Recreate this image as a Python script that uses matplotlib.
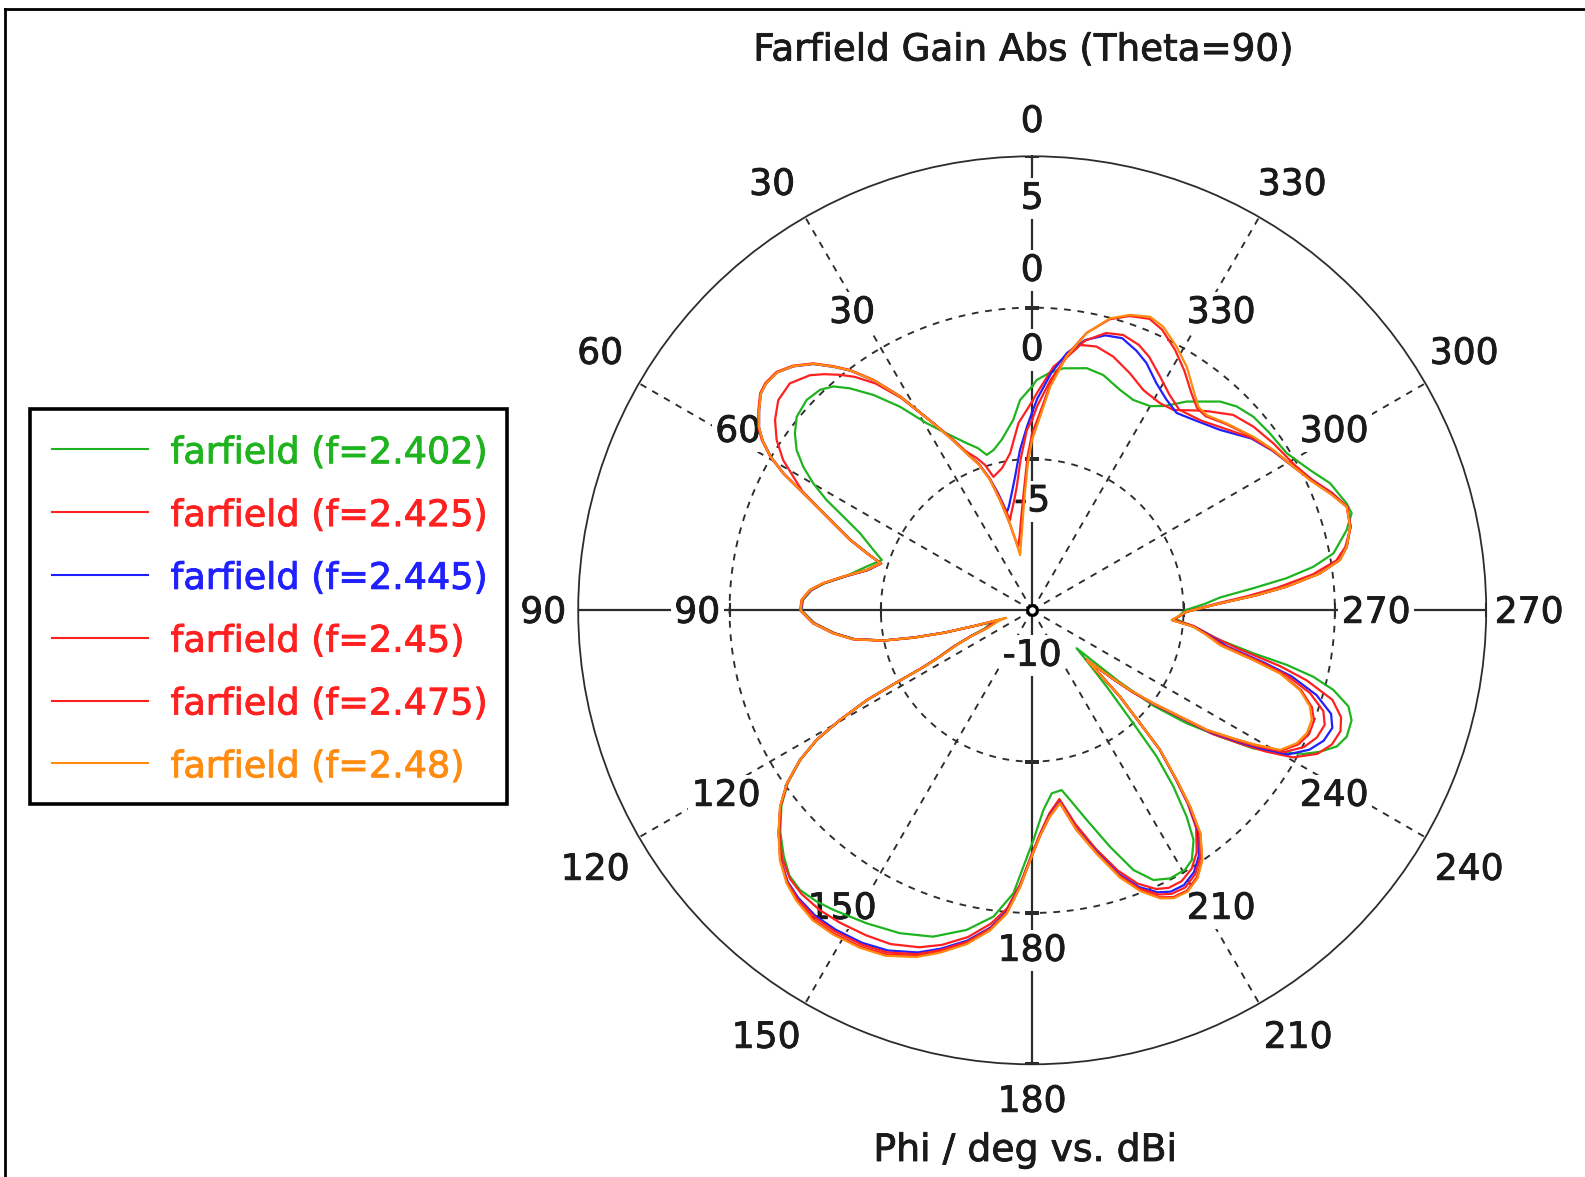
import numpy as np
import matplotlib
matplotlib.use("Agg")
import matplotlib.pyplot as plt
import matplotlib.patheffects as pe
from matplotlib.lines import Line2D
from matplotlib.patches import Rectangle

plt.rcParams['font.family'] = ['DejaVu Sans']

# ---------------- data ----------------
TITLE = 'Farfield Gain Abs (Theta=90)'
XLABEL = 'Phi / deg vs. dBi'
ANGLE_TICKS = [0, 30, 60, 90, 120, 150, 180, 210, 240, 270, 300, 330]
RING_VALUES = [5, 0, -5, -10]
R_MIN, R_MAX = -10, 5

LABELS = ['farfield (f=2.402)', 'farfield (f=2.425)', 'farfield (f=2.445)',
          'farfield (f=2.45)', 'farfield (f=2.475)', 'farfield (f=2.48)']
COLORS = ['#1fb41f', '#ff2020', '#2020ff', '#ff2020', '#ff2020', '#ff8c10']

# common phi grid (deg) for f=2.445 / 2.45 / 2.475 / 2.48
phi_bundle = [
    0, 1.7, 4.4, 7.1, 9.5, 12.4, 13.8, 14.5, 16.3, 17.9,
    20, 22.7, 25, 27.9, 31.7, 34.6, 37.2, 39.2, 41.6, 44.4,
    47, 49.6, 51.4, 53.8, 56.2, 57.8, 59.6, 61.2, 62.6, 64.3,
    66.4, 68.9, 71, 72.8, 76.3, 79.9, 82.6, 84.8, 87.4, 90,
    93.4, 96.6, 99.2, 101.5, 103, 104.3, 105.2, 106, 108, 111.2,
    112.8, 114.7, 116.7, 117.6, 118, 118.5, 119.7, 121, 122.8, 125.2,
    127.9, 131.3, 134.7, 138, 140.9, 144.7, 148.4, 152.9, 157, 161.5,
    164.9, 168.9, 172.5, 175.2, 177.5, 179.5, 182, 184.9, 188.2, 191.4,
    194.9, 198.2, 201.1, 204, 206.2, 208.9, 211.7, 214.2, 217, 218.8,
    220.4, 222.5, 223.7, 225.5, 227.6, 229.6, 230.8, 232.5, 234.3, 235.6,
    237.5, 238.8, 240.6, 243.3, 245.9, 248.6, 250.9, 253.4, 255.7, 257.3,
    259.5, 262, 264.2, 266, 269.5, 272.1, 273.8, 275.3, 277.3, 279.3,
    281.4, 284.7, 288.2, 291.4, 295.1, 298.8, 303.6, 308.1, 313.9, 318.2,
    320.8, 323.8, 327.6, 331.3, 335.2, 338.1, 341.7, 345.1, 348.9, 352.3,
    355.4, 358.6]

gain_f2480 = [
    -4.35, -5.15, -6.45, -7.3, -7.75, -8.13, -7.4, -7.0, -6.2, -5.47,
    -4.9, -4.38, -3.8, -3.01, -1.70, -0.76, -0.05, 0.39, 0.89, 1.29,
    1.52, 1.55, 1.47, 1.18, 0.86, 0.53, 0.02, -0.63, -1.38, -2.12,
    -2.85, -3.57, -4.24, -4.76, -4.37, -3.66, -3.04, -2.63, -2.38, -2.35,
    -2.76, -3.39, -4.01, -4.98, -6.0, -7.0, -8.1, -9.1, -8.8, -8.5,
    -7.9, -7.25, -6.6, -6.0, -5.0, -3.8, -2.69, -1.69, -0.87, -0.08,
    0.56, 1.16, 1.73, 2.13, 2.36, 2.55, 2.57, 2.52, 2.40, 2.08,
    1.72, 1.24, 0.67, 0.06, -0.85, -1.72, -2.55, -3.16, -3.56, -2.59,
    -1.66, -0.70, -0.05, 0.42, 0.60, 0.62, 0.40, 0.0, -0.76, -1.66,
    -2.62, -3.75, -4.84, -5.93, -7.55, -6.62, -5.83, -4.95, -3.98, -3.01,
    -2.12, -1.46, -0.60, -0.22, -0.06, -0.08, -0.29, -0.77, -1.55, -2.51,
    -3.69, -4.2, -4.65, -5.38, -4.90, -3.79, -2.6, -1.56, -0.41, 0.31,
    0.60, 0.86, 0.94, 0.57, 0.14, -0.15, -0.43, -0.71, -1.09, -1.35,
    -1.32, -0.98, -0.47, -0.07, 0.32, 0.45, 0.28, -0.02, -0.67, -1.54,
    -2.59, -3.93]

gain_f2475 = [
    -4.15, -4.9, -6.2, -7.0, -7.5, -7.85, -7.45, -7.05, -6.2, -5.45,
    -4.88, -4.36, -3.78, -2.99, -1.68, -0.74, -0.03, 0.41, 0.91, 1.31,
    1.55, 1.58, 1.50, 1.21, 0.89, 0.56, 0.04, -0.61, -1.36, -2.10,
    -2.83, -3.55, -4.22, -4.74, -4.36, -3.65, -3.03, -2.62, -2.37, -2.33,
    -2.74, -3.37, -4.0, -4.95, -5.95, -6.95, -7.95, -8.9, -8.7, -8.4,
    -7.85, -7.2, -6.55, -5.95, -5.0, -3.8, -2.7, -1.7, -0.88, -0.1,
    0.54, 1.14, 1.71, 2.11, 2.33, 2.51, 2.53, 2.48, 2.35, 2.04,
    1.69, 1.21, 0.64, 0.04, -0.86, -1.72, -2.55, -3.17, -3.57, -2.60,
    -1.68, -0.73, -0.08, 0.38, 0.56, 0.58, 0.36, -0.02, -0.77, -1.67,
    -2.63, -3.75, -4.84, -5.93, -7.5, -6.6, -5.82, -4.94, -3.97, -3.0,
    -2.1, -1.43, -0.55, -0.15, 0.02, 0.0, -0.22, -0.72, -1.5, -2.47,
    -3.66, -4.18, -4.63, -5.36, -4.88, -3.78, -2.6, -1.56, -0.42, 0.30,
    0.60, 0.87, 0.95, 0.58, 0.15, -0.14, -0.44, -0.73, -1.12, -1.40,
    -1.38, -1.10, -0.62, -0.18, 0.22, 0.38, 0.24, -0.05, -0.66, -1.50,
    -2.50, -3.75]

gain_f2445 = [
    -3.45, -3.95, -4.7, -5.5, -6.0, -6.45, -6.6, -6.64, -5.95, -5.42,
    -4.87, -4.36, -3.79, -3.0, -1.7, -0.77, -0.06, 0.38, 0.88, 1.28,
    1.52, 1.55, 1.47, 1.18, 0.86, 0.52, 0.0, -0.64, -1.38, -2.12,
    -2.85, -3.57, -4.25, -4.77, -4.4, -3.68, -3.06, -2.65, -2.40, -2.36,
    -2.78, -3.41, -4.04, -5.0, -6.05, -7.05, -8.1, -8.8, -8.6, -8.45,
    -7.85, -7.2, -6.55, -5.9, -4.95, -3.78, -2.68, -1.68, -0.86, -0.08,
    0.55, 1.15, 1.70, 2.07, 2.25, 2.38, 2.39, 2.34, 2.21, 1.92,
    1.58, 1.12, 0.57, -0.02, -0.9, -1.75, -2.57, -3.2, -3.6, -2.65,
    -1.75, -0.83, -0.2, 0.2, 0.36, 0.37, 0.17, -0.2, -0.9, -1.75,
    -2.68, -3.78, -4.86, -5.95, -7.5, -6.55, -5.75, -4.85, -3.85, -2.85,
    -1.9, -1.2, -0.3, 0.25, 0.55, 0.65, 0.45, -0.2, -1.15, -2.15,
    -3.45, -4.1, -4.6, -5.35, -4.9, -3.8, -2.62, -1.58, -0.43, 0.29,
    0.60, 0.87, 0.95, 0.60, 0.16, -0.15, -0.47, -0.80, -1.40, -1.67,
    -1.80, -1.92, -1.74, -1.45, -1.0, -0.76, -0.53, -0.6, -0.9, -1.42,
    -2.13, -3.0]

gain_f2450 = [
    -3.7, -4.04, -5.0, -5.88, -6.35, -6.75, -6.93, -6.7, -6.05, -5.44,
    -4.87, -4.36, -3.79, -3.0, -1.7, -0.76, -0.05, 0.39, 0.89, 1.29,
    1.53, 1.56, 1.48, 1.19, 0.87, 0.53, 0.01, -0.63, -1.37, -2.11,
    -2.84, -3.56, -4.24, -4.76, -4.39, -3.67, -3.05, -2.64, -2.39, -2.35,
    -2.77, -3.40, -4.03, -4.99, -6.02, -7.02, -8.05, -8.85, -8.65, -8.45,
    -7.85, -7.22, -6.57, -5.92, -4.97, -3.79, -2.69, -1.69, -0.87, -0.09,
    0.55, 1.15, 1.71, 2.09, 2.29, 2.43, 2.45, 2.40, 2.28, 1.98,
    1.63, 1.16, 0.60, 0.01, -0.88, -1.74, -2.56, -3.18, -3.58, -2.62,
    -1.71, -0.78, -0.14, 0.28, 0.44, 0.46, 0.25, -0.12, -0.84, -1.71,
    -2.65, -3.76, -4.85, -5.94, -7.5, -6.58, -5.78, -4.9, -3.91, -2.92,
    -2.0, -1.32, -0.45, 0.05, 0.30, 0.38, 0.18, -0.42, -1.32, -2.3,
    -3.55, -4.15, -4.62, -5.36, -4.89, -3.79, -2.61, -1.57, -0.42, 0.30,
    0.60, 0.86, 0.94, 0.59, 0.15, -0.15, -0.46, -0.77, -1.30, -1.60,
    -1.70, -1.78, -1.55, -1.20, -0.78, -0.55, -0.42, -0.52, -0.92, -1.58,
    -2.35, -3.25]

phi_f2402 = [
    0, 3.3, 5.7, 10.2, 13.5, 16.3, 18.5, 21.4, 25.8, 29.4,
    33.0, 36.4, 39.4, 41.6, 43.9, 47.0, 50.6, 53.3, 55.8, 57.9,
    59.9, 61.8, 63.6, 65.9, 69.2, 71.5, 75.2, 79.9, 82.6, 84.8,
    87.4, 90, 93.4, 96.6, 99.2, 101.5, 103, 104.3, 105.2, 106.5,
    108.5, 111.2, 112.8, 114.7, 116.7, 117.6, 118, 118.5, 119.7, 121,
    122.8, 125.2, 127.9, 131.3, 134.7, 137.5, 140.3, 143.5, 146.4, 152.1,
    157.7, 163.1, 168.4, 172.8, 176.2, 180.3, 183.2, 186.1, 189.3, 191.3,
    194.6, 198.2, 201.3, 204.2, 207.2, 210.5, 212.6, 215.1, 216.8, 218.7,
    220.4, 221.8, 224.3, 227.0, 229.5, 230.6, 231.8, 233.8, 236.1, 238.0,
    240.3, 242.1, 243.8, 245.9, 248.1, 251.0, 253.1, 255.2, 256.7, 257.9,
    259.0, 261.0, 264.0, 266.5, 270.0, 272.1, 273.9, 275.7, 277.2, 278.8,
    280.7, 284.3, 286.9, 288.8, 293.1, 296.8, 301.7, 306.7, 311.2, 314.9,
    318.0, 323.5, 327.0, 330.0, 334.3, 338.3, 343.2, 347.3, 352.7, 356.0,
    358.9]
gain_f2402 = [
    -2.6, -3.04, -3.68, -4.28, -4.55, -4.65, -4.35, -4.07, -3.51, -2.91,
    -1.98, -1.16, -0.51, -0.11, 0.11, 0.19, 0.07, -0.22, -0.59, -1.07,
    -1.64, -2.29, -3.03, -3.77, -4.39, -4.76, -4.34, -3.70, -3.08, -2.68,
    -2.42, -2.38, -2.80, -3.43, -4.05, -5.0, -6.0, -7.0, -8.0, -8.7,
    -8.5, -8.3, -7.8, -7.15, -6.5, -5.9, -4.95, -3.8, -2.72, -1.72,
    -0.9, -0.12, 0.5, 1.08, 1.55, 1.88, 2.01, 1.97, 1.88, 1.70,
    1.53, 1.27, 0.78, 0.20, -0.63, -2.41, -3.39, -3.92, -3.98, -3.61,
    -2.84, -1.78, -0.79, -0.23, -0.04, -0.05, -0.21, -0.73, -1.48, -2.54,
    -3.65, -4.99, -6.48, -7.5, -8.07, -6.3, -4.9, -3.68, -2.52, -1.39,
    -0.55, 0.14, 0.59, 1.02, 1.20, 1.16, 0.92, 0.29, -0.46, -1.40,
    -2.56, -3.72, -4.6, -5.25, -4.95, -4.3, -3.78, -2.66, -1.53, -0.60,
    0.13, 0.72, 1.03, 0.97, 0.70, 0.28, -0.12, -0.21, -0.29, -0.46,
    -0.72, -1.42, -1.95, -2.21, -2.29, -2.16, -1.88, -1.80, -1.94, -2.15,
    -2.39]

phi_f2425 = [
    0, 4.2, 8.0, 12.0, 16.2, 18.0, 20.0, 22.7, 25.0, 27.9,
    31.7, 34.6, 37.2, 39.2, 41.4, 43.4, 46.9, 50.4, 53.5, 56.3,
    58.9, 60.8, 62.6, 64.3, 66.4, 68.9, 71.0, 72.8, 76.3, 79.9,
    82.6, 84.8, 87.4, 90, 93.4, 96.6, 99.2, 101.5, 103, 104.3,
    105.2, 106.3, 108.5, 111.2, 112.8, 114.7, 116.7, 117.6, 118, 118.5,
    119.7, 121, 122.8, 125.2, 127.9, 131.3, 134.7, 138.0, 140.9, 144.7,
    148.4, 152.9, 157.0, 161.5, 164.9, 168.9, 172.5, 175.2, 177.5, 179.5,
    182.0, 184.9, 188.2, 191.4, 194.9, 198.2, 201.1, 204.0, 206.2, 208.9,
    211.7, 214.2, 217.0, 218.8, 220.4, 222.5, 223.7, 225.5, 227.8, 229.6,
    230.8, 232.5, 234.3, 235.6, 237.5, 238.8, 240.6, 243.3, 245.9, 248.6,
    250.9, 253.4, 255.7, 257.3, 259.5, 261.5, 264.5, 266.2, 269.5, 272.1,
    273.8, 275.3, 277.3, 279.3, 281.4, 284.7, 288.2, 291.4, 295.1, 298.8,
    304.7, 309.7, 314.2, 318.3, 320.2, 324.8, 328.3, 333.2, 337.6, 342.3,
    346.3, 349.8, 355.0, 358.8]
gain_f2425 = [
    -3.1, -3.8, -4.76, -5.2, -5.41, -4.95, -4.65, -4.3, -3.75, -3.0,
    -1.75, -0.9, -0.32, 0.04, 0.4, 0.69, 0.97, 0.89, 0.57, 0.15,
    -0.39, -0.96, -1.45, -2.15, -2.88, -3.6, -4.27, -4.78, -4.4, -3.68,
    -3.06, -2.66, -2.40, -2.36, -2.78, -3.41, -4.03, -5.0, -6.0, -7.05,
    -8.05, -8.75, -8.55, -8.4, -7.85, -7.18, -6.52, -5.9, -4.95, -3.8,
    -2.7, -1.7, -0.88, -0.1, 0.53, 1.12, 1.63, 1.95, 2.08, 2.14,
    2.12, 2.06, 1.98, 1.74, 1.45, 1.0, 0.44, -0.12, -0.95, -1.8,
    -2.62, -3.28, -3.7, -2.8, -1.85, -0.95, -0.32, 0.08, 0.22, 0.22,
    0.03, -0.33, -1.0, -1.8, -2.7, -3.78, -4.87, -5.97, -7.6, -6.5,
    -5.7, -4.8, -3.78, -2.75, -1.75, -1.0, -0.1, 0.55, 0.85, 0.94,
    0.8, 0.35, -0.65, -1.6, -3.1, -3.9, -4.65, -5.32, -4.9, -3.9,
    -2.85, -1.85, -0.65, 0.18, 0.55, 0.88, 0.96, 0.64, 0.2, -0.08,
    -0.31, -0.5, -0.74, -1.2, -1.41, -1.90, -1.96, -1.85, -1.53, -1.20,
    -1.03, -1.09, -1.92, -2.83]

# ---------------- layout ----------------
W, H, DPI = 1585, 1177, 100
CX, CY, RPX = 1032.2, 610.3, 454.0      # polar centre / outer radius (px)
FS = 26
TXT = '#1a1a1a'
GRID = '#2c2c2c'
DASH = (0, (3.6, 3.6))

# label centres as pixel offsets (dx right, dy down) from the polar centre
OUTER_LABEL_OFF = [(0, -491), (-260, -428), (-432, -259), (-489, 0), (-437, 257),
                   (-266, 425), (0, 489), (266, 425), (437, 257), (497, 0),
                   (432, -259), (260, -428)]
INNER_LABEL_OFF = [(0, -342), (-180, -300), (-294, -181), (-335, 0), (-306, 183),
                   (-190, 296), (0, 338), (189, 296), (302, 183), (344, 0),
                   (302, -181), (189, -300)]
TEXT_DY = 2.5   # optical correction for vertically centred digits


def px2r(p):
    return R_MIN + p / RPX * (R_MAX - R_MIN)


def off2polar(dx, dy):
    dy = dy + TEXT_DY
    return np.arctan2(-dx, -dy), px2r(np.hypot(dx, dy))


def fxy(px, py):
    return px / W, 1 - py / H


def heavy(color):
    return [pe.withStroke(linewidth=0.6, foreground=color)]


fig = plt.figure(figsize=(W / DPI, H / DPI), dpi=DPI)
fig.patch.set_facecolor('white')

# outer frame (top and left edge)
fig.add_artist(Line2D([5 / W, 1.0], [1 - 9 / H, 1 - 9 / H], transform=fig.transFigure,
                      color='black', lw=2.0))
fig.add_artist(Line2D([5 / W, 5 / W], [0.0, 1 - 9 / H], transform=fig.transFigure,
                      color='black', lw=2.0))

ax = fig.add_axes([(CX - RPX) / W, (H - CY - RPX) / H, 2 * RPX / W, 2 * RPX / H],
                  projection='polar')
ax.set_theta_zero_location('N')
ax.set_theta_direction(1)
ax.set_ylim(R_MIN, R_MAX)
ax.set_xticks([])
ax.set_yticks([])
ax.grid(False)
ax.spines['polar'].set_linewidth(1.3)
ax.spines['polar'].set_color(GRID)

# dashed rings
tt = np.linspace(0, 2 * np.pi, 721)
for v in RING_VALUES[1:-1]:
    ax.plot(tt, np.full_like(tt, v), color=GRID, lw=1.35, ls=DASH, zorder=1)

# spokes
for a in ANGLE_TICKS:
    th = np.deg2rad(a)
    if a % 90 == 0:
        ax.plot([th, th], [R_MIN, R_MAX], color=GRID, lw=1.6, zorder=1)
    else:
        ax.plot([th, th], [R_MIN, R_MAX], color=GRID, lw=1.35, ls=DASH, zorder=1)

# ticks on main axes at each ring
ring_r = RING_VALUES[:-1]
for a in (0, 180):
    ax.plot([np.deg2rad(a)] * len(ring_r), ring_r, ls='none', marker='_', ms=10,
            mew=1.5, color=GRID, zorder=1)
for a in (90, 270):
    ax.plot([np.deg2rad(a)] * len(ring_r), ring_r, ls='none', marker='|', ms=10,
            mew=1.5, color=GRID, zorder=1)

# angle labels
WHITE = dict(boxstyle='square,pad=0.1', facecolor='white', edgecolor='none')
for a, (odx, ody), (idx, idy) in zip(ANGLE_TICKS, OUTER_LABEL_OFF, INNER_LABEL_OFF):
    th, rr = off2polar(odx, ody)
    ax.text(th, rr, str(a), ha='center', va='center', fontsize=FS, color=TXT,
            clip_on=False, zorder=2, path_effects=heavy(TXT))
    th, rr = off2polar(idx, idy)
    ax.text(th, rr, str(a), ha='center', va='center', fontsize=FS, color=TXT,
            clip_on=False, zorder=2, bbox=WHITE, path_effects=heavy(TXT))

# radial value labels (just inside each ring on the 0 deg axis)
LBL_OFF = 1.40
for v in RING_VALUES[:-1]:
    ax.text(0, v - LBL_OFF, str(v), ha='center', va='center', fontsize=FS, color=TXT,
            clip_on=False, zorder=2, bbox=WHITE, path_effects=heavy(TXT))
ax.text(np.pi, R_MIN + LBL_OFF + 0.1, str(RING_VALUES[-1]), ha='center', va='center',
        fontsize=FS, color=TXT, clip_on=False, zorder=2, bbox=WHITE,
        path_effects=heavy(TXT))

# curves
curves = [
    (phi_f2402, gain_f2402),
    (phi_f2425, gain_f2425),
    (phi_bundle, gain_f2445),
    (phi_bundle, gain_f2450),
    (phi_bundle, gain_f2475),
    (phi_bundle, gain_f2480),
]
for (ph, g), c, lab in zip(curves, COLORS, LABELS):
    ph = np.asarray(ph, float)
    g = np.asarray(g, float)
    th = np.deg2rad(np.r_[ph, ph[0] + 360.0])
    rr = np.r_[g, g[0]]
    ax.plot(th, rr, color=c, lw=1.6, zorder=5, label=lab)

# centre marker
ax.plot([0], [R_MIN], marker='o', ms=7, mfc='white', mec='black', mew=2.3,
        zorder=6, clip_on=False)

# title / axis label
fig.text(*fxy(1024, 50), TITLE, ha='center', va='center', fontsize=26.8, color=TXT,
         path_effects=heavy(TXT))
fig.text(*fxy(1025, 1151), XLABEL, ha='center', va='center', fontsize=27.2, color=TXT,
         path_effects=heavy(TXT))

# legend (manual box)
bx0, by0, bx1, by1 = 29.5, 408.5, 506.5, 804.0
fig.add_artist(Rectangle(fxy(bx0, by1), (bx1 - bx0) / W, (by1 - by0) / H,
                         transform=fig.transFigure, fill=False, edgecolor='black',
                         lw=2.6))
row0, dy = 449.3, 62.8
for i, (lab, c) in enumerate(zip(LABELS, COLORS)):
    yy = row0 + i * dy
    fig.add_artist(Line2D([51.7 / W, 148.3 / W], [1 - yy / H, 1 - yy / H],
                          transform=fig.transFigure, color=c, lw=1.5))
    fig.text(*fxy(170.5, yy + 14), lab, ha='left', va='baseline', fontsize=26.3, color=c,
             path_effects=heavy(c))

fig.savefig('out.png', dpi=DPI, facecolor='white')
